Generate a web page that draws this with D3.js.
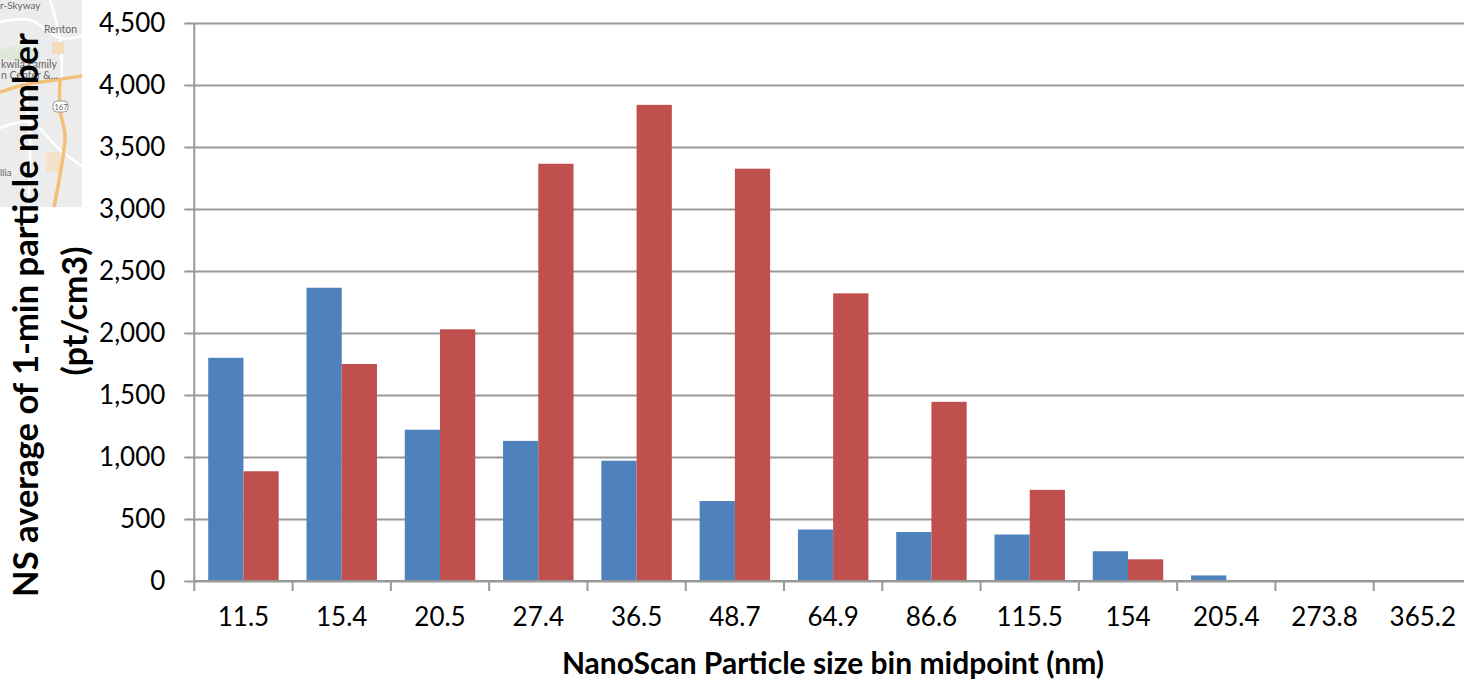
<!DOCTYPE html>
<html>
<head>
<meta charset="utf-8">
<script src="https://cdn.jsdelivr.net/npm/d3@7"></script>
<style>
  html, body { margin: 0; padding: 0; background: #fff; overflow: hidden; }
  svg { display: block; font-family: Lato, "Open Sans", sans-serif; }
</style>
</head>
<body>
<div id="chart"></div>
<script>
const bins = ["11.5", "15.4", "20.5", "27.4", "36.5", "48.7", "64.9", "86.6", "115.5", "154", "205.4", "273.8", "365.2"];
const blueValues = [1800, 2365, 1220, 1130, 970, 645, 415, 395, 375, 240, 45, 0, 0];
const redValues = [885, 1750, 2030, 3365, 3840, 3325, 2320, 1445, 735, 175, 0, 0, 0];
const yTicks = [0, 500, 1000, 1500, 2000, 2500, 3000, 3500, 4000, 4500];

const seriesColors = ["#4f81bd", "#c0504d"];
const axisColor = "#999";

const width = 1464, height = 680;

const svg = d3.select("#chart").append("svg")
    .attr("width", width)
    .attr("height", height)
    .attr("viewBox", `0 0 ${width} ${height}`);

// leftover map screenshot behind the y title
const map = svg.append("g").attr("class", "map");
map.append("rect").attr("width", 82).attr("height", 207).attr("fill", "#ececec");
const roadLine = d3.line().curve(d3.curveCatmullRom);
[
    [[0, 22], [30, 20], [60, 38], [82, 36]],
    [[50, 0], [60, 38], [62, 78]],
    [[0, 128], [30, 122], [60, 150], [82, 166]],
    [[25, 80], [30, 140], [28, 207]]
].forEach(r => map.append("path").attr("d", roadLine(r))
    .attr("fill", "none").attr("stroke", "#fff").attr("stroke-width", 2.5));
map.append("path").attr("d", "M0,50 Q20,42 42,52 L30,60 Q10,62 0,58 Z").attr("fill", "#dde8d8");
map.append("rect").attr("x", 52).attr("y", 42).attr("width", 12).attr("height", 12).attr("fill", "#f6dcbc");
map.append("rect").attr("x", 46).attr("y", 152).attr("width", 14).attr("height", 20).attr("fill", "#f6e2ca");
map.append("path").attr("d", roadLine([[0, 92], [28, 84], [55, 80], [82, 76]]))
    .attr("fill", "none").attr("stroke", "#f2c078").attr("stroke-width", 3.5);
map.append("path").attr("d", roadLine([[60, 80], [60, 110], [65, 135], [60, 175], [54, 207]]))
    .attr("fill", "none").attr("stroke", "#f2c078").attr("stroke-width", 3.5);
map.append("rect").attr("x", 53).attr("y", 101).attr("width", 15).attr("height", 11).attr("rx", 4)
    .attr("fill", "#fff").attr("stroke", "#999");
[
    { t: "r-Skyway", x: 0, y: 9, s: 10 },
    { t: "Renton", x: 44, y: 33, s: 10.5 },
    { t: "kwila Family", x: 1, y: 68, s: 10.5 },
    { t: "n Center &...", x: 1, y: 79, s: 10.5 },
    { t: "167", x: 54.5, y: 109.5, s: 7.5 },
    { t: "llia", x: 0, y: 176, s: 9.5 }
].forEach(d => map.append("text").attr("x", d.x).attr("y", d.y)
    .attr("font-size", d.s).attr("fill", "#666").text(d.t));

// the band runs past the right edge of the picture, same as the reference crop
const x = d3.scaleBand().domain(bins).range([194.3, 1472]).paddingInner(0.283).paddingOuter(0.1415);
const xSeries = d3.scaleBand().domain([0, 1]).range([0, x.bandwidth()]);
const y = d3.scaleLinear().domain([0, 4500]).range([581, 23]);

// gridlines + left axis
const yAxis = svg.append("g").attr("transform", "translate(194.3,0)")
    .call(d3.axisLeft(y).tickValues(yTicks).tickSize(12).tickPadding(17).tickFormat(d3.format(",")));
yAxis.select(".domain").remove();
yAxis.selectAll(".tick line").attr("stroke", axisColor).attr("stroke-width", 2)
    .attr("x1", -10).attr("x2", width);
yAxis.selectAll("text").attr("font-size", 26).attr("font-family", "Lato").attr("fill", "#000");

[blueValues, redValues].forEach((vals, i) => {
    svg.append("g").selectAll("rect")
        .data(vals)
        .join("rect")
        .attr("x", (d, k) => x(bins[k]) + xSeries(i))
        .attr("y", d => y(d))
        .attr("width", xSeries.bandwidth())
        .attr("height", d => y(0) - y(d))
        .attr("fill", seriesColors[i]);
});

svg.append("line").attr("x1", 194.3).attr("x2", 194.3)
    .attr("y1", y(4500)).attr("y2", y(0))
    .attr("stroke", axisColor).attr("stroke-width", 2);

// bottom axis, ticks sit between the bins
const xAxis = svg.append("g").attr("transform", `translate(0,${y(0)})`)
    .call(d3.axisBottom(x).tickSize(0).tickPadding(27));
xAxis.select(".domain").remove();
xAxis.selectAll("text").attr("font-size", 26).attr("font-family", "Lato").attr("fill", "#000");

svg.append("line").attr("x1", 194.3).attr("x2", width)
    .attr("y1", y(0)).attr("y2", y(0))
    .attr("stroke", axisColor).attr("stroke-width", 2);

const step = x.step();
svg.append("g").selectAll("line")
    .data(bins)
    .join("line")
    .attr("x1", d => x(d) - x.paddingOuter() * step)
    .attr("x2", d => x(d) - x.paddingOuter() * step)
    .attr("y1", y(0))
    .attr("y2", y(0) + 10)
    .attr("stroke", axisColor).attr("stroke-width", 2);

// titles
svg.append("text")
    .attr("x", 833).attr("y", 674).attr("text-anchor", "middle")
    .attr("font-size", 30).attr("font-weight", 700).attr("fill", "#000")
    .text("NanoScan Particle size bin midpoint (nm)");

svg.append("text")
    .attr("transform", "translate(38,315) rotate(-90)")
    .attr("text-anchor", "middle")
    .attr("font-size", 34.6).attr("font-weight", 700).attr("fill", "#000")
    .text("NS average of 1-min particle number");

svg.append("text")
    .attr("transform", "translate(87,311) rotate(-90)")
    .attr("text-anchor", "middle")
    .attr("font-size", 34).attr("font-weight", 700).attr("fill", "#000")
    .text("(pt/cm3)");
</script>
</body>
</html>
